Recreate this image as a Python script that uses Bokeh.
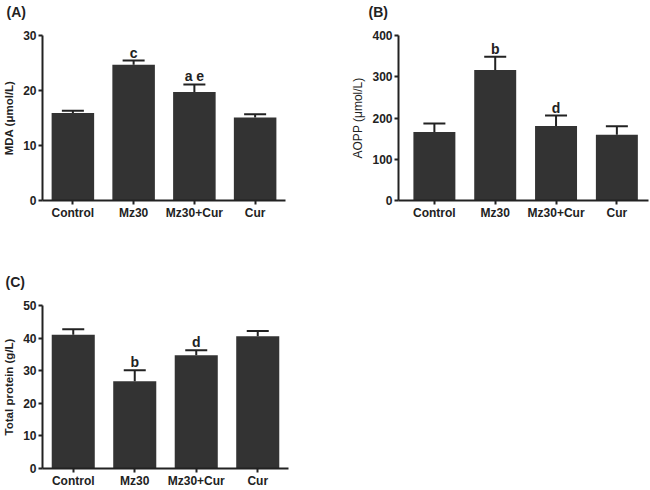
from bokeh.plotting import figure
from bokeh.layouts import column, row
from bokeh.models import (FactorRange, Range1d, Whisker, TeeHead, ColumnDataSource,
                          FixedTicker)
from bokeh.embed import file_html
from bokeh.resources import INLINE
from bokeh.core.properties import value

# ---------------- data ----------------
categories = ["Control", "Mz30", "Mz30+Cur", "Cur"]

mda_mean = [15.9, 24.7, 19.75, 15.1]
mda_sem = [0.4, 0.75, 1.35, 0.6]
mda_sig = ["", "c", "a e", ""]
mda_ticks = [0, 10, 20, 30]

aopp_mean = [166, 316.5, 180.5, 159.5]
aopp_sem = [20.5, 32, 25.5, 20.5]
aopp_sig = ["", "b", "d", ""]
aopp_ticks = [0, 100, 200, 300, 400]

tp_mean = [41.05, 26.8, 34.75, 40.6]
tp_sem = [1.65, 3.3, 1.5, 1.6]
tp_sig = ["", "b", "d", ""]
tp_ticks = [0, 10, 20, 30, 40, 50]

FONT = "Liberation Sans"
INK = "#222222"
BAR = "#333333"


def make_panel(xs, x_range, means, sems, sig, ticks, ylabel, ylabel_style,
               ylabel_size, panel, pw, ph, borders, title_offset,
               title_standoff, ylabel_standoff, bar_width):
    left, right, top, bottom = borders
    # second, blank title line keeps the panel letter away from the frame
    p = figure(width=pw, height=ph, x_range=x_range,
               y_range=Range1d(ticks[0], ticks[-1]),
               output_backend="svg", toolbar_location=None,
               min_border_left=left, min_border_right=right,
               min_border_top=top, min_border_bottom=bottom,
               title=panel + "\n ")
    up = [m + s for m, s in zip(means, sems)]
    src = ColumnDataSource(dict(x=xs, top=means, up=up, sig=sig))
    p.vbar(x="x", top="top", width=bar_width, source=src, fill_color=BAR,
           line_color=None)
    w = Whisker(base="x", lower="top", upper="up", source=src,
                line_color=INK, line_width=2, lower_head=None,
                upper_head=TeeHead(size=22, line_color=INK, line_width=2),
                level="overlay")
    p.add_layout(w)
    p.text(x="x", y="up", text="sig", source=src, text_align="center",
           text_baseline="alphabetic", y_offset=-8,
           text_font=value(FONT), text_font_size="14px",
           text_font_style="bold", text_color=INK)

    p.title.text_font = FONT
    p.title.text_font_size = "14px"
    p.title.text_font_style = "bold"
    p.title.text_color = INK
    p.title.align = "left"
    p.title.offset = title_offset
    p.title.standoff = title_standoff

    p.outline_line_color = None
    p.grid.visible = False
    for ax in (p.xaxis[0], p.yaxis[0]):
        ax.axis_line_color = INK
        ax.axis_line_width = 2
        ax.major_tick_line_color = INK
        ax.major_tick_line_width = 2
        ax.major_tick_in = 0
        ax.major_tick_out = 4
        ax.minor_tick_line_color = None
        ax.major_label_text_font = FONT
        ax.major_label_text_font_size = "12px"
        ax.major_label_text_font_style = "bold"
        ax.major_label_text_color = INK
        ax.major_label_standoff = 2
    p.xaxis.major_label_standoff = 1
    p.yaxis.ticker = FixedTicker(ticks=ticks)
    p.yaxis.axis_label = ylabel
    p.yaxis.axis_label_text_font = FONT
    p.yaxis.axis_label_text_font_size = ylabel_size
    p.yaxis.axis_label_text_font_style = ylabel_style
    p.yaxis.axis_label_text_color = INK
    p.yaxis.axis_label_standoff = ylabel_standoff
    return p


# Panel A (categorical x)
pA = make_panel(categories, FactorRange(*categories, range_padding=0),
                mda_mean, mda_sem, mda_sig, mda_ticks, "MDA (\u03bcmol/L)",
                "bold", "11.5px", "(A)", 330, 250, (38, 45, 35, 50),
                -36, 0, 5, 0.7)

# Panel B (numeric x with category labels)
idx = list(range(len(categories)))
pB = make_panel(idx, Range1d(-0.59, 3.52), aopp_mean, aopp_sem, aopp_sig,
                aopp_ticks, "AOPP (\u03bcmol/L)", "normal", "12px", "(B)",
                320, 250, (68, 2, 35, 50), -30, 0, 4, 0.69)
pB.xaxis.ticker = FixedTicker(ticks=idx)
pB.xaxis.major_label_overrides = {i: c for i, c in zip(idx, categories)}

# Panel C (categorical x)
pC = make_panel(categories, FactorRange(*categories, range_padding=0),
                tp_mean, tp_sem, tp_sig, tp_ticks, "Total protein (g/L)",
                "bold", "11.5px", "(C)", 330, 240, (39, 42, 55, 19),
                -37, 0, 5, 0.7)

layout = column(row(pA, pB), pC)

open("out.html", "w").write(file_html(layout, INLINE))
